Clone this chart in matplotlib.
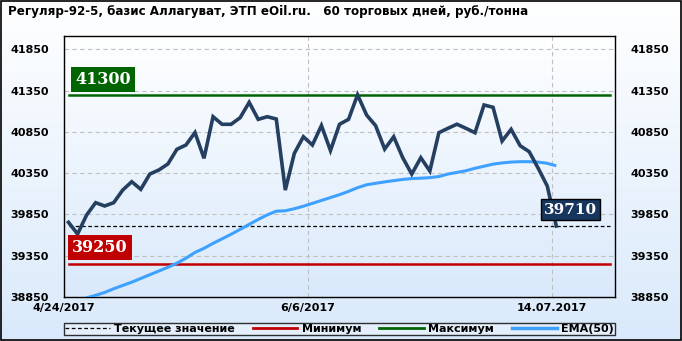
import numpy as np
import matplotlib
matplotlib.use("Agg")
import matplotlib.pyplot as plt
from matplotlib.lines import Line2D

# prices for the last trading days (rub/t)
price = [39755, 39613, 39843, 39993, 39953, 39993, 40146, 40247, 40155, 40340,
         40389, 40462, 40640, 40692, 40843, 40531, 41035, 40943, 40943, 41023,
         41209, 41003, 41035, 41007, 40146, 40591, 40792, 40692, 40928, 40625,
         40943, 41003, 41300, 41055, 40926, 40643, 40792, 40538, 40340, 40538,
         40377, 40841, 40894, 40944, 40894, 40841, 41177, 41149, 40740, 40882,
         40683, 40611, 40410, 40195, 39710]

ema50 = [38760, 38800, 38840, 38870, 38905, 38950, 38990, 39030, 39075, 39120,
         39165, 39210, 39260, 39320, 39390, 39440, 39500, 39555, 39610, 39670,
         39730, 39790, 39845, 39890, 39895, 39920, 39950, 39985, 40020, 40055,
         40090, 40130, 40175, 40210, 40228, 40245, 40260, 40275, 40285, 40290,
         40296, 40310, 40340, 40360, 40380, 40410, 40435, 40460, 40475, 40485,
         40490, 40490, 40485, 40470, 40440]

max_val = 41300
min_val = 39250
cur_val = 39710

yticks = [38850, 39350, 39850, 40350, 40850, 41350, 41850]
xtick_pos = [-0.5, 26.5, 53.5]
xtick_labels = ["4/24/2017", "6/6/2017", "14.07.2017"]

title = "Регуляр-92-5, базис Аллагуват, ЭТП eOil.ru.   60 торговых дней, руб./тонна"

fig = plt.figure(figsize=(6.82, 3.41), dpi=100)

# figure background gradient
bg = fig.add_axes([0, 0, 1, 1], zorder=-10)
grad = np.linspace(0, 1, 256).reshape(-1, 1)
cmap = matplotlib.colors.LinearSegmentedColormap.from_list("bg", ["#ffffff", "#d9e9fb"])
bg.imshow(grad, aspect="auto", cmap=cmap, extent=[0, 1, 0, 1], origin="upper")
bg.set_xlim(0, 1)
bg.set_ylim(0, 1)
bg.axis("off")
fig.patches.append(plt.Rectangle((0.001, 0.002), 0.997, 0.995, transform=fig.transFigure,
                                 fill=False, edgecolor="black", lw=1.2))

fig.text(8 / 682, 1 - 12 / 341, title, fontsize=8.6, fontweight="bold",
         family="DejaVu Sans", va="center", ha="left")

ax = fig.add_axes([64 / 682, 1 - 297 / 341, (615 - 64) / 682, (297 - 36) / 341])
ax.set_xlim(-0.5, 60.5)
ax.set_ylim(38850, 42013)

# plot area gradient
ax.imshow(grad, aspect="auto", cmap=cmap, extent=[-0.5, 60.5, 38850, 42013],
          origin="upper", zorder=0)

x = np.arange(len(price))
ax.set_yticks(yticks)
ax.set_xticks(xtick_pos)
ax.set_xticklabels(xtick_labels, fontsize=8, fontweight="bold")
ax.tick_params(length=0, labelsize=8, labelright=True, pad=5)
for lab in ax.get_yticklabels():
    lab.set_fontweight("bold")
ax.tick_params(axis="y", pad=11)
ax.tick_params(axis="x", pad=4)
ax.grid(True, color="#c0c0c0", ls=(0, (4, 3)), lw=0.8, zorder=1)
for s in ax.spines.values():
    s.set_linewidth(1.0)

xl = [0, 60]
ax.plot(xl, [cur_val, cur_val], color="black", ls=(0, (3, 2)), lw=0.9, zorder=3)
ax.plot(xl, [min_val, min_val], color="#c00000", lw=1.8, zorder=3)
ax.plot(xl, [max_val, max_val], color="#006400", lw=1.8, zorder=3)
ax.plot(x, ema50, color="#3ea1ff", lw=2.2, zorder=4, solid_capstyle="butt")
ax.plot(x, price, color="#243f60", lw=2.6, zorder=5, solid_joinstyle="miter")

lab_font = dict(fontweight="bold", family="DejaVu Serif", color="white",
                va="center", ha="left", zorder=6)
ax.text(0.75, 41486, str(max_val), fontsize=11.5,
        bbox=dict(boxstyle="square,pad=0.25", fc="#006400", ec="none"), **lab_font)
ax.text(0.4, 39448, str(min_val), fontsize=11.5,
        bbox=dict(boxstyle="square,pad=0.25", fc="#c00000", ec="none"), **lab_font)
ax.text(52.6, 39910, str(cur_val), fontsize=11,
        bbox=dict(boxstyle="square,pad=0.2", fc="#17365d", ec="black", lw=1), **lab_font)

handles = [Line2D([], [], color="black", ls=(0, (3, 2)), lw=0.9),
           Line2D([], [], color="#c00000", lw=2),
           Line2D([], [], color="#006400", lw=2),
           Line2D([], [], color="#3ea1ff", lw=2.5)]
labels = ["Текущее значение", "Минимум", "Максимум", "EMA(50)"]
leg = fig.legend(handles, labels, ncol=4, loc="lower left", mode="expand",
                 bbox_to_anchor=(64 / 682, 1 - 335 / 341, (615 - 64) / 682, 15 / 341),
                 fontsize=8, frameon=True, fancybox=False, borderpad=0.1,
                 handlelength=4, handletextpad=0.4, borderaxespad=0)
leg.get_frame().set_edgecolor("black")
leg.get_frame().set_linewidth(1)
leg.get_frame().set_facecolor("#e8f1fc")
for t in leg.get_texts():
    t.set_fontweight("bold")

fig.savefig("out.png", dpi=100)
